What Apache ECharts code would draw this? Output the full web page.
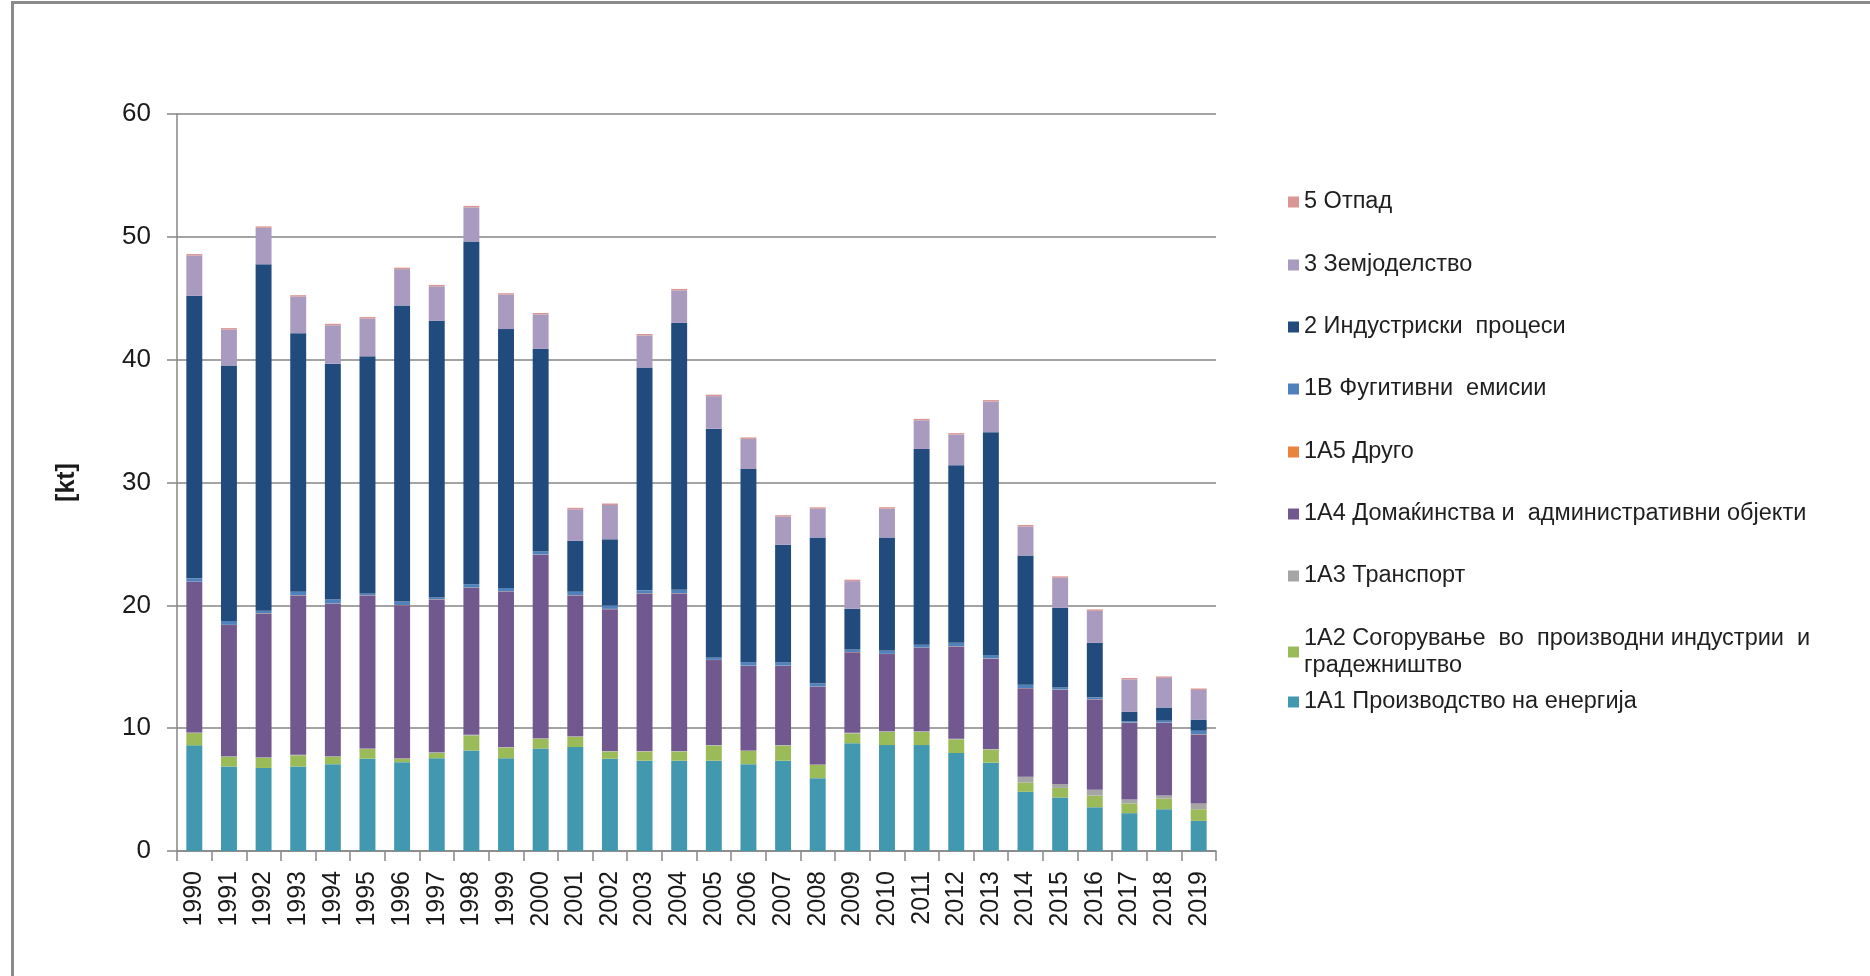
<!DOCTYPE html>
<html>
<head>
<meta charset="utf-8">
<script src="https://cdn.jsdelivr.net/npm/echarts@6/dist/echarts.min.js"></script>
<style>
html,body{margin:0;padding:0;background:#fff;}
#chart{position:absolute;left:0;top:0;width:1870px;height:976px;}
#frame{position:absolute;left:11px;top:1px;width:1870px;height:980px;border-top:3px solid #8a8a8a;border-left:3px solid #8a8a8a;pointer-events:none;}
</style>
</head>
<body>
<div id="chart"></div>
<div id="frame"></div>
<script>
const years = ['1990','1991','1992','1993','1994','1995','1996','1997','1998','1999','2000','2001','2002','2003','2004','2005','2006','2007','2008','2009','2010','2011','2012','2013','2014','2015','2016','2017','2018','2019'];
const yTicks = [0, 10, 20, 30, 40, 50, 60];

const s1A1 = [8.6, 6.88, 6.76, 6.88, 7.07, 7.51, 7.23, 7.55, 8.18, 7.55, 8.34, 8.46, 7.51, 7.35, 7.35, 7.35, 7.07, 7.35, 5.93, 8.77, 8.62, 8.62, 7.98, 7.19, 4.82, 4.35, 3.56, 3.08, 3.4, 2.45];
const s1A2 = [1.0, 0.79, 0.83, 0.91, 0.6, 0.79, 0.28, 0.43, 1.23, 0.87, 0.79, 0.83, 0.59, 0.75, 0.75, 1.23, 1.07, 1.23, 1.07, 0.8, 1.07, 1.07, 1.11, 1.07, 0.75, 0.79, 0.95, 0.79, 0.87, 0.95];
const s1A3 = [0.05, 0.05, 0.05, 0.05, 0.05, 0.05, 0.05, 0.05, 0.05, 0.05, 0.05, 0.05, 0.05, 0.05, 0.05, 0.05, 0.05, 0.05, 0.05, 0.05, 0.05, 0.05, 0.05, 0.05, 0.48, 0.32, 0.47, 0.32, 0.24, 0.47];
const s1A4 = [12.26, 10.67, 11.7, 12.96, 12.41, 12.45, 12.45, 12.45, 11.97, 12.65, 14.94, 11.46, 11.54, 12.81, 12.81, 6.91, 6.88, 6.44, 6.32, 6.56, 6.29, 6.8, 7.51, 7.35, 7.19, 7.67, 7.35, 6.24, 5.92, 5.62];
const s1A5 = [0.02, 0.02, 0.02, 0.02, 0.02, 0.02, 0.02, 0.02, 0.02, 0.02, 0.02, 0.02, 0.02, 0.02, 0.02, 0.02, 0.02, 0.02, 0.02, 0.02, 0.02, 0.02, 0.02, 0.02, 0.02, 0.02, 0.02, 0.02, 0.02, 0.02];
const s1B = [0.27, 0.32, 0.2, 0.28, 0.32, 0.15, 0.28, 0.16, 0.28, 0.28, 0.24, 0.28, 0.28, 0.24, 0.28, 0.2, 0.28, 0.28, 0.24, 0.2, 0.28, 0.24, 0.28, 0.28, 0.28, 0.16, 0.16, 0.12, 0.16, 0.28];
const s2 = [23.0, 20.8, 28.2, 21.06, 19.2, 19.3, 24.1, 22.5, 27.9, 21.07, 16.5, 4.15, 5.38, 18.14, 21.73, 18.62, 15.73, 9.56, 11.89, 3.32, 9.2, 15.93, 14.46, 18.14, 10.51, 6.48, 4.43, 0.75, 1.07, 0.91];
const s3 = [3.28, 2.92, 2.97, 2.97, 3.13, 3.08, 2.96, 2.81, 2.77, 2.8, 2.8, 2.57, 2.8, 2.61, 2.65, 2.65, 2.45, 2.29, 2.34, 2.25, 2.34, 2.33, 2.49, 2.49, 2.37, 2.45, 2.61, 2.65, 2.41, 2.41];
const s5 = [0.12, 0.12, 0.12, 0.12, 0.12, 0.12, 0.12, 0.12, 0.12, 0.12, 0.12, 0.12, 0.12, 0.12, 0.12, 0.12, 0.12, 0.12, 0.12, 0.12, 0.12, 0.12, 0.12, 0.12, 0.12, 0.12, 0.12, 0.12, 0.12, 0.12];

const names = {
  a1: '1A1 Производство на енергија',
  a2: '1A2 Согорување  во  производни индустрии  и градежништво',
  a3: '1A3 Транспорт',
  a4: '1A4 Домаќинства и  административни објекти',
  a5: '1A5 Друго',
  b: '1B Фугитивни  емисии',
  i2: '2 Индустриски  процеси',
  z3: '3 Земјоделство',
  o5: '5 Отпад'
};

const FONT = '"Liberation Sans", Arial, sans-serif';
const seriesDefs = [
  [names.a1, s1A1, '#4198AF'],
  [names.a2, s1A2, '#9BBB59'],
  [names.a3, s1A3, '#A5A5A5'],
  [names.a4, s1A4, '#71588F'],
  [names.a5, s1A5, '#E8843E'],
  [names.b, s1B, '#4F81BD'],
  [names.i2, s2, '#214B7D'],
  [names.z3, s3, '#A99BC0'],
  [names.o5, s5, '#D99694']
];

const legendOrder = [names.o5, names.z3, names.i2, names.b, names.a5, names.a4, names.a3, names.a2, names.a1];
const legendCenters = [202, 265, 327, 389, 452, 514, 576, 640, 702];
const LH = 27;
const legends = legendOrder.map((n, i) => {
  const isTwo = n === names.a2;
  return {
    show: true,
    orient: 'vertical',
    left: 1288,
    top: isTwo ? legendCenters[i] - LH * 1.5 + 12 : legendCenters[i] - LH / 2,
    data: [n],
    icon: 'rect',
    itemWidth: 11,
    itemHeight: 11,
    itemGap: 0,
    padding: 0,
    selectedMode: false,
    formatter: isTwo ? '1A2 Согорување  во  производни индустрии  и\nградежништво' : undefined,
    textStyle: {
      fontFamily: FONT,
      fontSize: 23.5,
      color: '#1f1f1f',
      lineHeight: LH,
      padding: isTwo ? [LH, 0, 0, 0] : 0
    }
  };
});

const chart = echarts.init(document.getElementById('chart'), null, {renderer: 'canvas'});
chart.setOption({
  backgroundColor: '#ffffff',
  animation: false,
  legend: legends,
  grid: {left: 177, right: 654, top: 114, bottom: 125, containLabel: false},
  xAxis: {
    type: 'category',
    data: years,
    axisLine: {lineStyle: {color: '#868686', width: 1.5}},
    axisTick: {show: true, alignWithLabel: false, length: 10, lineStyle: {color: '#868686', width: 1.5}},
    axisLabel: {rotate: 90, margin: 20, fontFamily: FONT, fontSize: 25, color: '#1a1a1a', interval: 0}
  },
  yAxis: {
    type: 'value',
    min: yTicks[0],
    max: yTicks[yTicks.length - 1],
    interval: 10,
    name: '[kt]',
    nameLocation: 'middle',
    nameRotate: 90,
    nameGap: 97,
    nameTextStyle: {fontFamily: FONT, fontSize: 25, fontWeight: 'bold', color: '#1a1a1a', padding: [0, 0, 0, 0]},
    axisLine: {show: true, lineStyle: {color: '#868686', width: 1.5}},
    axisTick: {show: true, length: 10, lineStyle: {color: '#868686', width: 1.5}},
    axisLabel: {margin: 26, fontFamily: FONT, fontSize: 26, color: '#1a1a1a'},
    splitLine: {show: true, lineStyle: {color: '#868686', width: 1.5}}
  },
  series: seriesDefs.map(([n, d, c]) => ({
    name: n,
    type: 'bar',
    stack: 'total',
    data: d,
    barWidth: '46%',
    itemStyle: {color: c},
    emphasis: {disabled: true}
  }))
});
</script>
</body>
</html>
